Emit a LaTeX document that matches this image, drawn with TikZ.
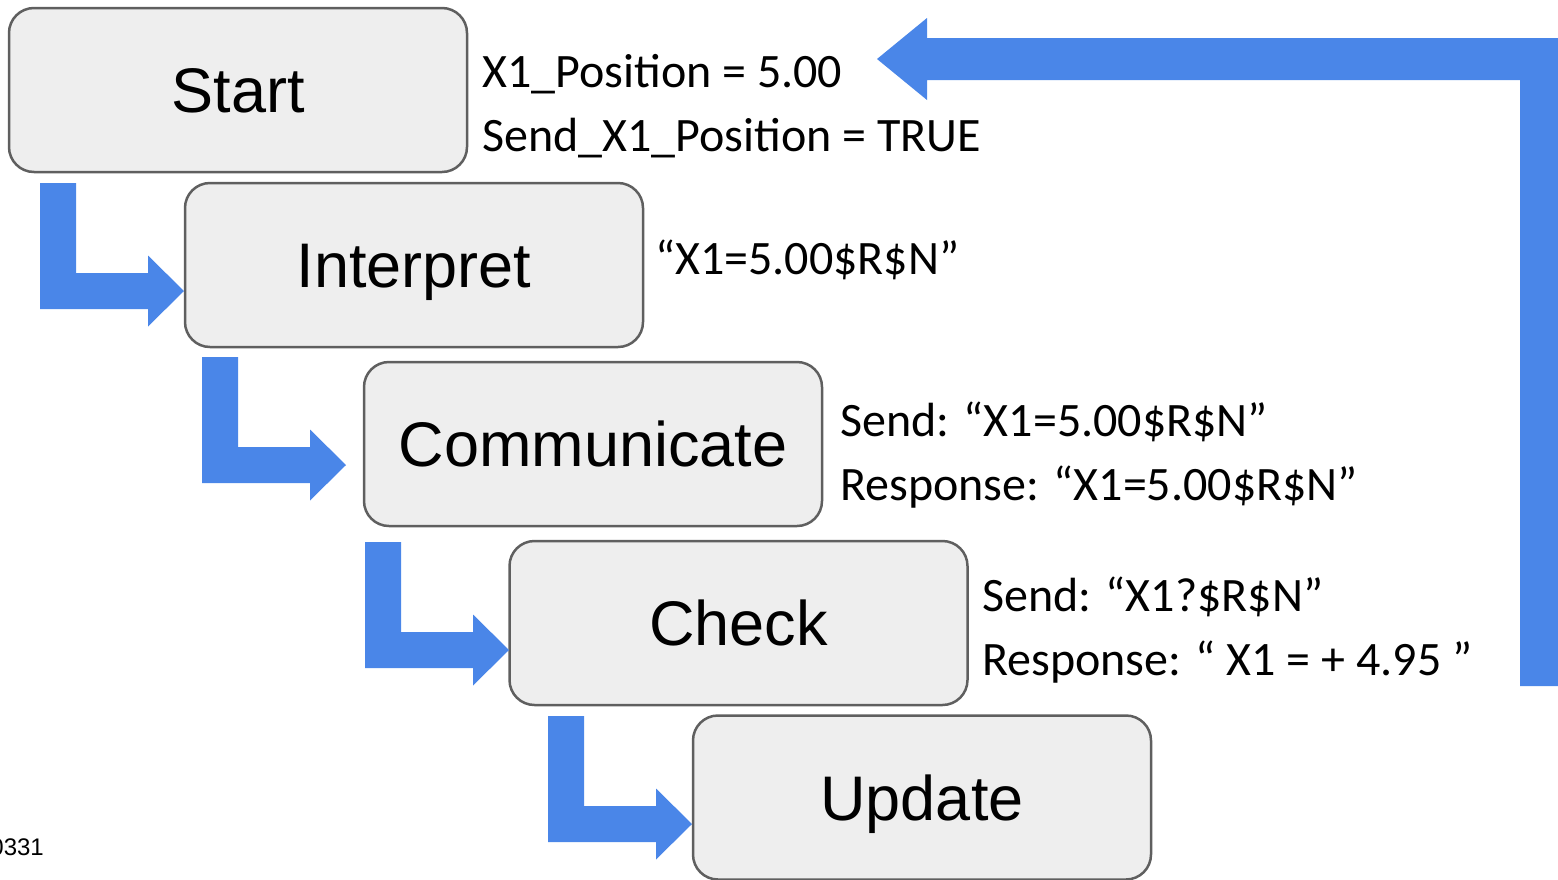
\documentclass[tikz,border=0pt]{standalone}
\usepackage{fontspec}
\newfontfamily\labelfont{Liberation Sans}
\newfontfamily\notefont{Carlito}
\definecolor{flowblue}{HTML}{4A86E8}
\definecolor{boxfill}{HTML}{EEEEEE}
\definecolor{boxline}{HTML}{5F5F5F}
\tikzset{
  stage/.style={draw=boxline, fill=boxfill, line width=2.5pt, rounded corners=25pt,
    minimum width=458pt, minimum height=164pt, inner sep=0pt,
    text height=45pt, text depth=0pt, font=\labelfont\fontsize{63}{70}\selectfont},
  note/.style={anchor=base west, inner sep=0pt, font=\notefont\fontsize{48}{56}\selectfont},
  stamp/.style={anchor=base east, inner sep=0pt, font=\labelfont\fontsize{24}{28}\selectfont},
  % L-shaped block arrow, origin at the top-left of its stem
  pics/bentarrow/.style={code={
    \fill[flowblue] (0,0) -- (36,0) -- (36,90) -- (108,90) -- (108,72.5) -- (144,108)
      -- (108,143.5) -- (108,126) -- (0,126) -- cycle;}}
}
\begin{document}
\begin{tikzpicture}[x=1pt, y=-1pt]
  \useasboundingbox (0,0) rectangle (1558,879);
  \clip (0,0) rectangle (1558,879);

  % process stages
  \node[stage] (start)   at (238,90)    {Start};
  \node[stage] (interp)  at (414,265)   {Interpret};
  \node[stage] (comm)    at (593,444)   {Communicate};
  \node[stage] (check)   at (738.5,623) {Check};
  \node[stage] (update)  at (922,797.5) {Update};

  % step arrows between stages
  \pic (step1) at (40,183)  {bentarrow};
  \pic (step2) at (202,357) {bentarrow};
  \pic (step3) at (365,542) {bentarrow};
  \pic (step4) at (548,716) {bentarrow};

  % loop back to the start
  \coordinate (loopTip) at (877,59);
  \coordinate (loopFoot) at (1520,686);
  \fill[flowblue] (loopFoot) -- (1520,80) -- (927,80) -- (927,100) -- (loopTip)
    -- (927,18) -- (927,38) -- (1562,38) -- (1562,686) -- cycle;

  % stage notes
  \node[note] (n1a) at (482,87)  {X1\_Position = 5.00};
  \node[note] (n1b) at (482,151) {Send\_X1\_Position = TRUE};
  \node[note] (n2)  at (655,274) {“X1=5.00\$R\$N”};
  \node[note] (n3a) at (840,436) {Send: “X1=5.00\$R\$N”};
  \node[note] (n3b) at (840,500) {Response: “X1=5.00\$R\$N”};
  \node[note] (n4a) at (982,611) {Send: “X1?\$R\$N”};
  \node[note] (n4b) at (982,675) {Response: “ X1 = + 4.95 ”};

  \node[stamp] (tag) at (44,855) {0331};
\end{tikzpicture}
\end{document}
